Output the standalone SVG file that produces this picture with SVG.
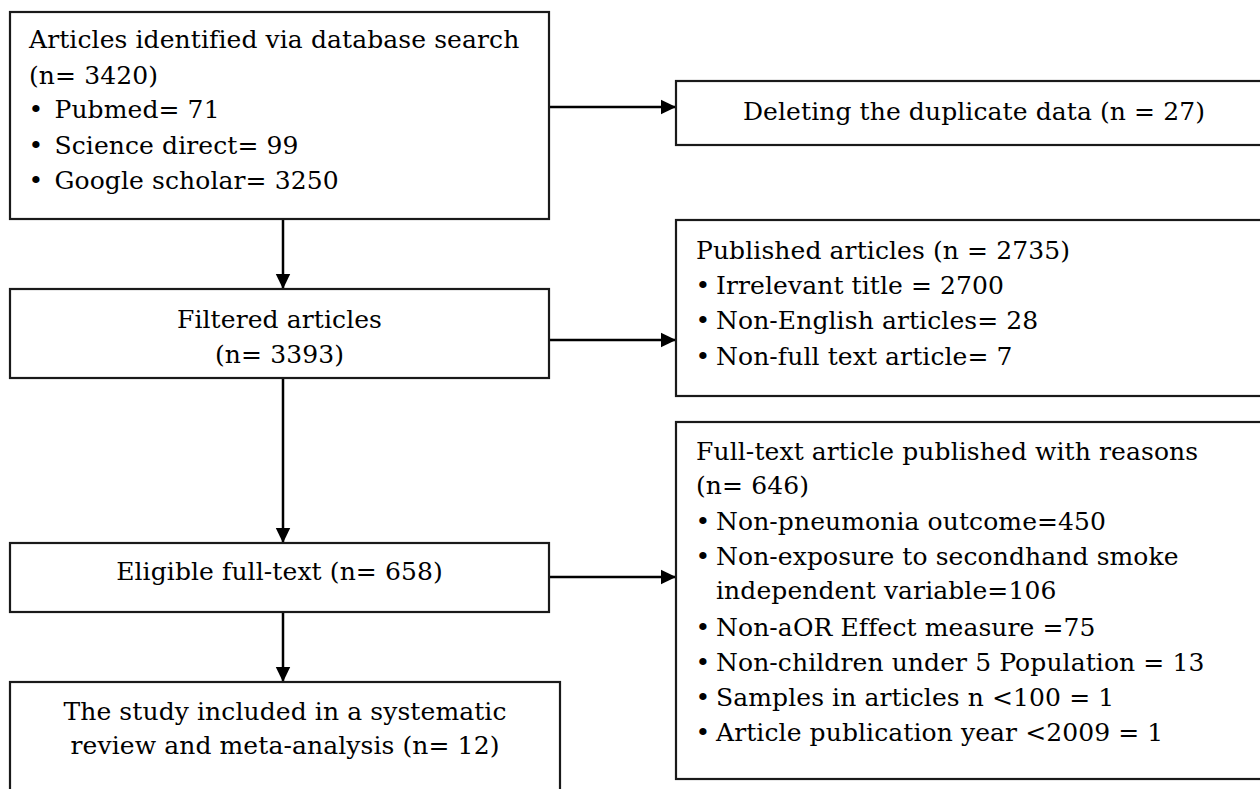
<svg xmlns="http://www.w3.org/2000/svg" width="1260" height="789" viewBox="0 0 1260 789">
<defs>
<style>
.box{fill:#fff;stroke:#1a1a1a;stroke-width:2.2}
.t{font-family:"DejaVu Serif","Liberation Serif",serif;font-size:25px;letter-spacing:0.1px;fill:#000}
.c{text-anchor:middle}
.con{stroke:#000;stroke-width:2.5;fill:none;marker-end:url(#ah)}
</style>
<marker id="ah" markerUnits="userSpaceOnUse" markerWidth="16" markerHeight="16" viewBox="0 0 16 16" refX="15" refY="8" orient="auto">
<path d="M0,0.8 L15,8 L0,15.2 Z" fill="#000"/>
</marker>
</defs>
<rect width="1260" height="789" fill="#fff"/>
<g id="connectors">
<line class="con" x1="549" y1="107" x2="676" y2="107"/>
<line class="con" x1="549" y1="340" x2="676" y2="340"/>
<line class="con" x1="549" y1="577" x2="676" y2="577"/>
<line class="con" x1="283" y1="219" x2="283" y2="289"/>
<line class="con" x1="283" y1="378" x2="283" y2="543"/>
<line class="con" x1="283" y1="612" x2="283" y2="682"/>
</g>
<g id="identified">
<rect class="box" x="10" y="12" width="539" height="207"/>
<text class="t" x="29" y="48">Articles identified via database search</text>
<text class="t" x="29" y="83.5">(n= 3420)</text>
<text class="t c" x="36" y="118">•</text>
<text class="t" x="54.5" y="118">Pubmed= 71</text>
<text class="t c" x="36" y="153.5">•</text>
<text class="t" x="54.5" y="153.5">Science direct= 99</text>
<text class="t c" x="36" y="188.5">•</text>
<text class="t" x="54.5" y="188.5">Google scholar= 3250</text>
</g>
<g id="filtered">
<rect class="box" x="10" y="289" width="539" height="89"/>
<text class="t c" x="279.5" y="328">Filtered articles</text>
<text class="t c" x="279.5" y="363">(n= 3393)</text>
</g>
<g id="eligible">
<rect class="box" x="10" y="543" width="539" height="69"/>
<text class="t c" x="279.5" y="580">Eligible full-text (n= 658)</text>
</g>
<g id="included">
<rect class="box" x="10" y="682" width="550" height="130"/>
<text class="t c" x="285" y="720">The study included in a systematic</text>
<text class="t c" x="285" y="754">review and meta-analysis (n= 12)</text>
</g>
<g id="duplicates">
<rect class="box" x="676" y="81" width="600" height="64"/>
<text class="t c" x="974" y="120">Deleting the duplicate data (n = 27)</text>
</g>
<g id="published">
<rect class="box" x="676" y="220" width="600" height="176"/>
<text class="t" x="696" y="259">Published articles (n = 2735)</text>
<text class="t c" x="703" y="293.5">•</text>
<text class="t" x="716" y="293.5">Irrelevant title = 2700</text>
<text class="t c" x="703" y="329">•</text>
<text class="t" x="716" y="329">Non-English articles= 28</text>
<text class="t c" x="703" y="364.5">•</text>
<text class="t" x="716" y="364.5">Non-full text article= 7</text>
</g>
<g id="fulltext">
<rect class="box" x="676" y="422" width="600" height="357"/>
<text class="t" x="696" y="459.5">Full-text article published with reasons</text>
<text class="t" x="696" y="494">(n= 646)</text>
<text class="t c" x="703" y="529.5">•</text>
<text class="t" x="716" y="529.5">Non-pneumonia outcome=450</text>
<text class="t c" x="703" y="565">•</text>
<text class="t" x="716" y="565">Non-exposure to secondhand smoke</text>
<text class="t" x="716" y="598.5">independent variable=106</text>
<text class="t c" x="703" y="636">•</text>
<text class="t" x="716" y="636">Non-aOR Effect measure =75</text>
<text class="t c" x="703" y="670.5">•</text>
<text class="t" x="716" y="670.5">Non-children under 5 Population = 13</text>
<text class="t c" x="703" y="706">•</text>
<text class="t" x="716" y="706">Samples in articles n &lt;100 = 1</text>
<text class="t c" x="703" y="741">•</text>
<text class="t" x="716" y="741">Article publication year &lt;2009 = 1</text>
</g>
</svg>
